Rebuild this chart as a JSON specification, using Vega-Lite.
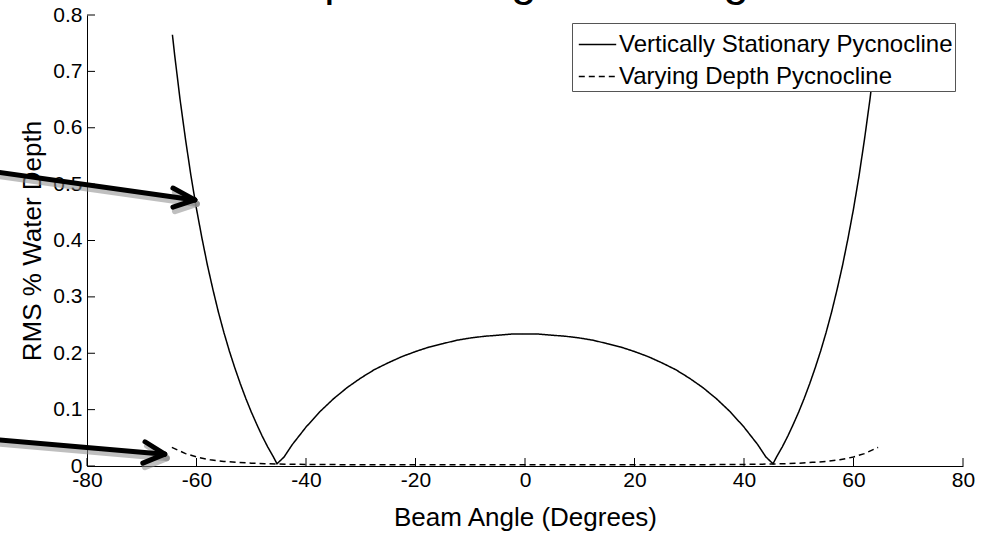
{
  "$schema": "https://vega.github.io/schema/vega-lite/v6.json",
  "width": 876,
  "height": 451,
  "autosize": {"type": "none"},
  "padding": {"left": 87, "top": 15, "right": 27, "bottom": 90},
  "background": "white",
  "config": {
    "view": {"stroke": null},
    "font": "Liberation Sans",
    "axis": {
      "grid": false,
      "domainColor": "black",
      "domainWidth": 1,
      "ticks": false,
      "labelColor": "black",
      "labelFontSize": 21,
      "labelFont": "Liberation Sans",
      "titleColor": "black",
      "titleFont": "Liberation Sans",
      "titleFontSize": 26,
      "titleFontWeight": "normal"
    }
  },
  "datasets": {
    "curves": [
      {"series": "Vertically Stationary Pycnocline", "angle": -64.4, "rms": 0.765},
      {"series": "Vertically Stationary Pycnocline", "angle": -64, "rms": 0.730},
      {"series": "Vertically Stationary Pycnocline", "angle": -63, "rms": 0.650},
      {"series": "Vertically Stationary Pycnocline", "angle": -62, "rms": 0.579},
      {"series": "Vertically Stationary Pycnocline", "angle": -61, "rms": 0.514},
      {"series": "Vertically Stationary Pycnocline", "angle": -60, "rms": 0.456},
      {"series": "Vertically Stationary Pycnocline", "angle": -59, "rms": 0.404},
      {"series": "Vertically Stationary Pycnocline", "angle": -58, "rms": 0.356},
      {"series": "Vertically Stationary Pycnocline", "angle": -57, "rms": 0.313},
      {"series": "Vertically Stationary Pycnocline", "angle": -56, "rms": 0.273},
      {"series": "Vertically Stationary Pycnocline", "angle": -55, "rms": 0.237},
      {"series": "Vertically Stationary Pycnocline", "angle": -54, "rms": 0.204},
      {"series": "Vertically Stationary Pycnocline", "angle": -53, "rms": 0.174},
      {"series": "Vertically Stationary Pycnocline", "angle": -52, "rms": 0.146},
      {"series": "Vertically Stationary Pycnocline", "angle": -51, "rms": 0.120},
      {"series": "Vertically Stationary Pycnocline", "angle": -50, "rms": 0.096},
      {"series": "Vertically Stationary Pycnocline", "angle": -49, "rms": 0.074},
      {"series": "Vertically Stationary Pycnocline", "angle": -48, "rms": 0.053},
      {"series": "Vertically Stationary Pycnocline", "angle": -47, "rms": 0.034},
      {"series": "Vertically Stationary Pycnocline", "angle": -46, "rms": 0.017},
      {"series": "Vertically Stationary Pycnocline", "angle": -45.3, "rms": 0.004},
      {"series": "Vertically Stationary Pycnocline", "angle": -44, "rms": 0.016},
      {"series": "Vertically Stationary Pycnocline", "angle": -42.5, "rms": 0.038},
      {"series": "Vertically Stationary Pycnocline", "angle": -40, "rms": 0.069},
      {"series": "Vertically Stationary Pycnocline", "angle": -37.5, "rms": 0.096},
      {"series": "Vertically Stationary Pycnocline", "angle": -35, "rms": 0.119},
      {"series": "Vertically Stationary Pycnocline", "angle": -32.5, "rms": 0.139},
      {"series": "Vertically Stationary Pycnocline", "angle": -30, "rms": 0.156},
      {"series": "Vertically Stationary Pycnocline", "angle": -27.5, "rms": 0.171},
      {"series": "Vertically Stationary Pycnocline", "angle": -25, "rms": 0.183},
      {"series": "Vertically Stationary Pycnocline", "angle": -22.5, "rms": 0.194},
      {"series": "Vertically Stationary Pycnocline", "angle": -20, "rms": 0.203},
      {"series": "Vertically Stationary Pycnocline", "angle": -17.5, "rms": 0.211},
      {"series": "Vertically Stationary Pycnocline", "angle": -15, "rms": 0.217},
      {"series": "Vertically Stationary Pycnocline", "angle": -12.5, "rms": 0.223},
      {"series": "Vertically Stationary Pycnocline", "angle": -10, "rms": 0.227},
      {"series": "Vertically Stationary Pycnocline", "angle": -7.5, "rms": 0.230},
      {"series": "Vertically Stationary Pycnocline", "angle": -5, "rms": 0.232},
      {"series": "Vertically Stationary Pycnocline", "angle": -2.5, "rms": 0.234},
      {"series": "Vertically Stationary Pycnocline", "angle": 0, "rms": 0.234},
      {"series": "Vertically Stationary Pycnocline", "angle": 2.5, "rms": 0.234},
      {"series": "Vertically Stationary Pycnocline", "angle": 5, "rms": 0.232},
      {"series": "Vertically Stationary Pycnocline", "angle": 7.5, "rms": 0.230},
      {"series": "Vertically Stationary Pycnocline", "angle": 10, "rms": 0.227},
      {"series": "Vertically Stationary Pycnocline", "angle": 12.5, "rms": 0.223},
      {"series": "Vertically Stationary Pycnocline", "angle": 15, "rms": 0.217},
      {"series": "Vertically Stationary Pycnocline", "angle": 17.5, "rms": 0.211},
      {"series": "Vertically Stationary Pycnocline", "angle": 20, "rms": 0.203},
      {"series": "Vertically Stationary Pycnocline", "angle": 22.5, "rms": 0.194},
      {"series": "Vertically Stationary Pycnocline", "angle": 25, "rms": 0.183},
      {"series": "Vertically Stationary Pycnocline", "angle": 27.5, "rms": 0.171},
      {"series": "Vertically Stationary Pycnocline", "angle": 30, "rms": 0.156},
      {"series": "Vertically Stationary Pycnocline", "angle": 32.5, "rms": 0.139},
      {"series": "Vertically Stationary Pycnocline", "angle": 35, "rms": 0.119},
      {"series": "Vertically Stationary Pycnocline", "angle": 37.5, "rms": 0.096},
      {"series": "Vertically Stationary Pycnocline", "angle": 40, "rms": 0.069},
      {"series": "Vertically Stationary Pycnocline", "angle": 42.5, "rms": 0.038},
      {"series": "Vertically Stationary Pycnocline", "angle": 44, "rms": 0.016},
      {"series": "Vertically Stationary Pycnocline", "angle": 45.3, "rms": 0.004},
      {"series": "Vertically Stationary Pycnocline", "angle": 46, "rms": 0.017},
      {"series": "Vertically Stationary Pycnocline", "angle": 47, "rms": 0.034},
      {"series": "Vertically Stationary Pycnocline", "angle": 48, "rms": 0.053},
      {"series": "Vertically Stationary Pycnocline", "angle": 49, "rms": 0.074},
      {"series": "Vertically Stationary Pycnocline", "angle": 50, "rms": 0.096},
      {"series": "Vertically Stationary Pycnocline", "angle": 51, "rms": 0.120},
      {"series": "Vertically Stationary Pycnocline", "angle": 52, "rms": 0.146},
      {"series": "Vertically Stationary Pycnocline", "angle": 53, "rms": 0.174},
      {"series": "Vertically Stationary Pycnocline", "angle": 54, "rms": 0.204},
      {"series": "Vertically Stationary Pycnocline", "angle": 55, "rms": 0.237},
      {"series": "Vertically Stationary Pycnocline", "angle": 56, "rms": 0.273},
      {"series": "Vertically Stationary Pycnocline", "angle": 57, "rms": 0.313},
      {"series": "Vertically Stationary Pycnocline", "angle": 58, "rms": 0.356},
      {"series": "Vertically Stationary Pycnocline", "angle": 59, "rms": 0.404},
      {"series": "Vertically Stationary Pycnocline", "angle": 60, "rms": 0.456},
      {"series": "Vertically Stationary Pycnocline", "angle": 61, "rms": 0.514},
      {"series": "Vertically Stationary Pycnocline", "angle": 62, "rms": 0.579},
      {"series": "Vertically Stationary Pycnocline", "angle": 63, "rms": 0.650},
      {"series": "Vertically Stationary Pycnocline", "angle": 64, "rms": 0.730},
      {"series": "Vertically Stationary Pycnocline", "angle": 64.4, "rms": 0.765},
      {"series": "Varying Depth Pycnocline", "angle": -64.5, "rms": 0.033},
      {"series": "Varying Depth Pycnocline", "angle": -62, "rms": 0.022},
      {"series": "Varying Depth Pycnocline", "angle": -60, "rms": 0.016},
      {"series": "Varying Depth Pycnocline", "angle": -57.5, "rms": 0.011},
      {"series": "Varying Depth Pycnocline", "angle": -55, "rms": 0.008},
      {"series": "Varying Depth Pycnocline", "angle": -52.5, "rms": 0.0065},
      {"series": "Varying Depth Pycnocline", "angle": -50, "rms": 0.005},
      {"series": "Varying Depth Pycnocline", "angle": -47.5, "rms": 0.004},
      {"series": "Varying Depth Pycnocline", "angle": -45, "rms": 0.0035},
      {"series": "Varying Depth Pycnocline", "angle": -40, "rms": 0.0028},
      {"series": "Varying Depth Pycnocline", "angle": -30, "rms": 0.0022},
      {"series": "Varying Depth Pycnocline", "angle": -20, "rms": 0.002},
      {"series": "Varying Depth Pycnocline", "angle": -10, "rms": 0.002},
      {"series": "Varying Depth Pycnocline", "angle": 0, "rms": 0.002},
      {"series": "Varying Depth Pycnocline", "angle": 10, "rms": 0.002},
      {"series": "Varying Depth Pycnocline", "angle": 20, "rms": 0.002},
      {"series": "Varying Depth Pycnocline", "angle": 30, "rms": 0.0022},
      {"series": "Varying Depth Pycnocline", "angle": 40, "rms": 0.0028},
      {"series": "Varying Depth Pycnocline", "angle": 45, "rms": 0.0035},
      {"series": "Varying Depth Pycnocline", "angle": 47.5, "rms": 0.004},
      {"series": "Varying Depth Pycnocline", "angle": 50, "rms": 0.005},
      {"series": "Varying Depth Pycnocline", "angle": 52.5, "rms": 0.0065},
      {"series": "Varying Depth Pycnocline", "angle": 55, "rms": 0.008},
      {"series": "Varying Depth Pycnocline", "angle": 57.5, "rms": 0.011},
      {"series": "Varying Depth Pycnocline", "angle": 60, "rms": 0.016},
      {"series": "Varying Depth Pycnocline", "angle": 62, "rms": 0.022},
      {"series": "Varying Depth Pycnocline", "angle": 64.5, "rms": 0.033}
    ],
    "arrows": [
      {"part": "shaft A", "angle": -97, "rms": 0.522, "angle2": -60.3, "rms2": 0.472},
      {"part": "head A1", "angle": -64.3, "rms": 0.493, "angle2": -60.3, "rms2": 0.472},
      {"part": "head A2", "angle": -64.3, "rms": 0.459, "angle2": -60.3, "rms2": 0.472},
      {"part": "shaft B", "angle": -97, "rms": 0.047, "angle2": -65.8, "rms2": 0.021},
      {"part": "head B1", "angle": -69.4, "rms": 0.043, "angle2": -65.8, "rms2": 0.021},
      {"part": "head B2", "angle": -69.8, "rms": 0.005, "angle2": -65.8, "rms2": 0.021}
    ],
    "angleTicks": [
      {"angle": -80}, {"angle": -60}, {"angle": -40}, {"angle": -20}, {"angle": 0},
      {"angle": 20}, {"angle": 40}, {"angle": 60}, {"angle": 80}
    ],
    "rmsTicks": [
      {"rms": 0}, {"rms": 0.1}, {"rms": 0.2}, {"rms": 0.3}, {"rms": 0.4},
      {"rms": 0.5}, {"rms": 0.6}, {"rms": 0.7}, {"rms": 0.8}
    ],
    "heading": [
      {"heading": "Depth Change with Angle", "angle": 0, "rms": 0.835}
    ]
  },
  "layer": [
    {
      "data": {"name": "curves"},
      "mark": {"type": "line", "color": "black", "strokeWidth": 1.5, "interpolate": "linear"},
      "encoding": {
        "x": {
          "field": "angle",
          "type": "quantitative",
          "title": "Beam Angle (Degrees)",
          "scale": {"domain": [-80, 80], "nice": false, "zero": false},
          "axis": {
            "title": "Beam Angle (Degrees)",
            "values": [-80, -60, -40, -20, 0, 20, 40, 60, 80],
            "labelExpr": "'' + datum.value",
            "labelPadding": 3,
            "titlePadding": 14,
            "labelFlush": false
          }
        },
        "y": {
          "field": "rms",
          "type": "quantitative",
          "title": "RMS % Water Depth",
          "scale": {"domain": [0, 0.8], "nice": false, "zero": false},
          "axis": {
            "title": "RMS % Water Depth",
            "values": [0, 0.1, 0.2, 0.3, 0.4, 0.5, 0.6, 0.7, 0.8],
            "labelExpr": "'' + datum.value",
            "labelPadding": 5,
            "titlePadding": 7,
            "labelFlush": false
          }
        },
        "strokeDash": {
          "field": "series",
          "type": "nominal",
          "scale": {
            "domain": ["Vertically Stationary Pycnocline", "Varying Depth Pycnocline"],
            "range": [[1, 0], [6, 4]]
          },
          "legend": {
            "orient": "none",
            "legendX": 485,
            "legendY": 8,
            "title": null,
            "labelFontSize": 24,
            "labelLimit": 500,
            "labelColor": "black",
            "labelOffset": 2,
            "symbolType": "stroke",
            "symbolSize": 1400,
            "symbolOffset": 4,
            "symbolStrokeWidth": 1.5,
            "symbolStrokeColor": "black",
            "strokeColor": "#555",
            "fillColor": "white",
            "padding": 2,
            "rowPadding": -9
          }
        }
      }
    },
    {
      "data": {"name": "angleTicks"},
      "mark": {"type": "rule", "color": "black", "strokeWidth": 1, "y2Offset": -8},
      "encoding": {
        "x": {"field": "angle", "type": "quantitative", "title": "Beam Angle (Degrees)"},
        "y": {"datum": 0, "type": "quantitative", "title": "RMS % Water Depth"},
        "y2": {"datum": 0}
      }
    },
    {
      "data": {"name": "rmsTicks"},
      "mark": {"type": "rule", "color": "black", "strokeWidth": 1, "x2Offset": 8},
      "encoding": {
        "x": {"datum": -80, "type": "quantitative", "title": "Beam Angle (Degrees)"},
        "x2": {"datum": -80},
        "y": {"field": "rms", "type": "quantitative", "title": "RMS % Water Depth"}
      }
    },
    {
      "data": {"name": "arrows"},
      "mark": {"type": "rule", "color": "#8a8a8a", "opacity": 0.55, "strokeWidth": 6, "strokeCap": "round", "xOffset": 2, "x2Offset": 2, "yOffset": 4, "y2Offset": 4},
      "encoding": {
        "x": {"field": "angle", "type": "quantitative", "title": "Beam Angle (Degrees)"},
        "y": {"field": "rms", "type": "quantitative", "title": "RMS % Water Depth"},
        "x2": {"field": "angle2"},
        "y2": {"field": "rms2"},
        "detail": {"field": "part"}
      }
    },
    {
      "data": {"name": "arrows"},
      "mark": {"type": "rule", "color": "black", "strokeWidth": 5, "strokeCap": "round"},
      "encoding": {
        "x": {"field": "angle", "type": "quantitative", "title": "Beam Angle (Degrees)"},
        "y": {"field": "rms", "type": "quantitative", "title": "RMS % Water Depth"},
        "x2": {"field": "angle2"},
        "y2": {"field": "rms2"},
        "detail": {"field": "part"}
      }
    },
    {
      "data": {"name": "heading"},
      "mark": {
        "type": "text",
        "font": "Liberation Sans",
        "fontSize": 46,
        "color": "black",
        "align": "center",
        "baseline": "alphabetic"
      },
      "encoding": {
        "x": {"field": "angle", "type": "quantitative", "title": "Beam Angle (Degrees)"},
        "y": {"field": "rms", "type": "quantitative", "title": "RMS % Water Depth"},
        "text": {"field": "heading"}
      }
    }
  ]
}
